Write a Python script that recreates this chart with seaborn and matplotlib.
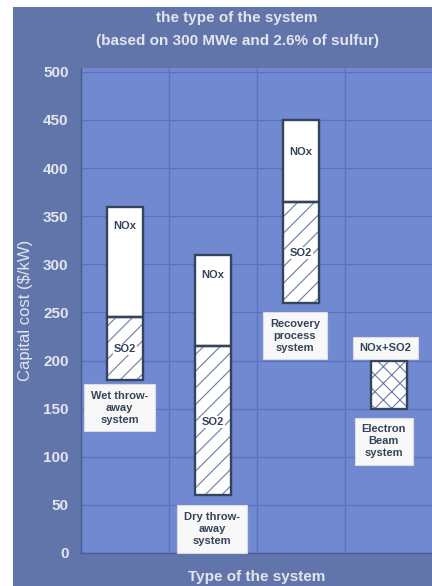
import matplotlib
matplotlib.use("Agg")
import matplotlib.pyplot as plt
from matplotlib.patches import Rectangle
import pandas as pd
import seaborn as sns

# Capital cost ranges ($/kW) of flue-gas treatment systems
systems = ["Wet throw-away system", "Dry throw-away system",
           "Recovery process system", "Electron Beam system"]
box_labels = ["Wet throw-\naway\nsystem", "Dry throw-\naway\nsystem",
              "Recovery\nprocess\nsystem", "Electron\nBeam\nsystem"]

# separate SO2 + NOx plants (first three systems)
sep_systems = systems[:3]
so2_low = [180, 60, 260]
so2_high = [245, 215, 365]
nox_high = [360, 310, 450]

# combined NOx+SO2 plant (electron beam)
comb_systems = systems[3:]
comb_low = [150]
comb_high = [200]

yticks = [0, 50, 100, 150, 200, 250, 300, 350, 400, 450, 500]

sep = pd.DataFrame({
    "system": sep_systems,
    "so2_low": so2_low,
    "so2_cost": [h - l for h, l in zip(so2_high, so2_low)],
    "nox_low": so2_high,
    "nox_cost": [h - l for h, l in zip(nox_high, so2_high)],
})
comb = pd.DataFrame({
    "system": comb_systems,
    "low": comb_low,
    "cost": [h - l for h, l in zip(comb_high, comb_low)],
})

sns.set_theme(style="whitegrid")
plt.rcParams["font.family"] = ["Liberation Sans", "DejaVu Sans"]
plt.rcParams["hatch.linewidth"] = 0.8

outer_bg = "#6175ab"
plot_bg = "#7189d0"
grid_c = "#5a71bb"
light_txt = "#e2e6f0"
dark_txt = "#33445a"
edge_c = "#34445c"
hatch_c = "#6a7aa6"

fig = plt.figure(figsize=(4.32, 5.86), dpi=100)
fig.patch.set_facecolor("white")
fig.patches.append(Rectangle((13 / 432, 0), 1, (586 - 7) / 586,
                             transform=fig.transFigure, facecolor=outer_bg,
                             edgecolor="none", zorder=-10))

ax = fig.add_axes([81 / 432, 33 / 586, 352 / 432, 485 / 586])
ax.set_facecolor(plot_bg)

common = dict(order=systems, width=0.4, errorbar=None, ax=ax)
fill_kw = dict(color="white", edgecolor=hatch_c, linewidth=0, zorder=3)
outline_kw = dict(color=edge_c, facecolor="none", edgecolor=edge_c,
                  linewidth=1.7, zorder=4)

# hatched fills, then dark outlines on top
sns.barplot(data=sep, x="system", y="so2_cost", bottom=sep["so2_low"].tolist(),
            hatch="//", **common, **fill_kw)
sns.barplot(data=sep, x="system", y="nox_cost", bottom=sep["nox_low"].tolist(),
            **common, **fill_kw)
sns.barplot(data=comb, x="system", y="cost", bottom=comb["low"].tolist(),
            hatch="xx", **common, **fill_kw)
sns.barplot(data=sep, x="system", y="so2_cost", bottom=sep["so2_low"].tolist(),
            **common, **outline_kw)
sns.barplot(data=sep, x="system", y="nox_cost", bottom=sep["nox_low"].tolist(),
            **common, **outline_kw)
sns.barplot(data=comb, x="system", y="cost", bottom=comb["low"].tolist(),
            **common, **outline_kw)

# segment labels inside the bars
nox_label_y = [340, 289, 417]
for i, yl in enumerate(nox_label_y):
    ax.text(i, yl, "NOx", ha="center", va="center", fontsize=8,
            fontweight="bold", color=dark_txt, zorder=5)
for i, (lo, hi) in enumerate(zip(so2_low, so2_high)):
    ax.text(i, (lo + hi) / 2 - 1, "SO2", ha="center", va="center", fontsize=8,
            fontweight="bold", color=dark_txt, zorder=5,
            bbox=dict(boxstyle="square,pad=0.08", facecolor="white",
                      edgecolor="none"))

# system name boxes
box_style = dict(boxstyle="square,pad=0.6", facecolor="#f8f8f8",
                 edgecolor="#d9dce4", linewidth=0.8)
box_pos = [(-0.06, 151), (0.99, 25), (1.93, 226), (2.94, 116)]
for (bx, by), txt in zip(box_pos, box_labels):
    ax.text(bx, by, txt, ha="center", va="center", fontsize=8,
            fontweight="bold", color=dark_txt, linespacing=1.25,
            bbox=box_style, zorder=6)
ax.text(2.96, 213, "NOx+SO2", ha="center", va="center", fontsize=8,
        fontweight="bold", color=dark_txt,
        bbox=dict(boxstyle="square,pad=0.55", facecolor="#f8f8f8",
                  edgecolor="#d9dce4", linewidth=0.8), zorder=6)

# axes, grid and labels
ax.set_xlim(-0.5, 3.5)
ax.set_ylim(0, 504)
ax.set_yticks(yticks)
ax.set_xticks([0, 1, 2, 3])
ax.set_xticklabels([])
ax.set_xticks([-0.5, 0.5, 1.5, 2.5, 3.5], minor=True)
ax.tick_params(axis="both", which="both", length=0)
ax.tick_params(axis="y", pad=9, labelsize=11, labelcolor=light_txt)
for lab in ax.get_yticklabels():
    lab.set_fontweight("bold")
ax.grid(False)
ax.yaxis.grid(True, color=grid_c, linewidth=0.9, zorder=0)
ax.xaxis.grid(True, which="minor", color=grid_c, linewidth=0.9, zorder=0)
ax.set_axisbelow(True)
for side in ["top", "right"]:
    ax.spines[side].set_visible(False)
for side in ["left", "bottom"]:
    ax.spines[side].set_color("#4a5c95")
    ax.spines[side].set_linewidth(1.0)

ax.set_ylabel("Capital cost ($/kW)", fontsize=12, color=light_txt)
ax.yaxis.set_label_coords(-0.135, 0.5)
ax.set_xlabel("Type of the system", fontsize=11, color=light_txt,
              fontweight="bold")
ax.xaxis.set_label_coords(0.5, -0.036)

fig.text(237 / 432, 1 - 18 / 586, "the type of the system", ha="center",
         va="center", fontsize=11, fontweight="bold", color=light_txt)
fig.text(237 / 432, 1 - 41 / 586, "(based on 300 MWe and 2.6% of sulfur)",
         ha="center", va="center", fontsize=11, fontweight="bold",
         color=light_txt)

fig.savefig("out.png", dpi=100, facecolor=fig.get_facecolor())
